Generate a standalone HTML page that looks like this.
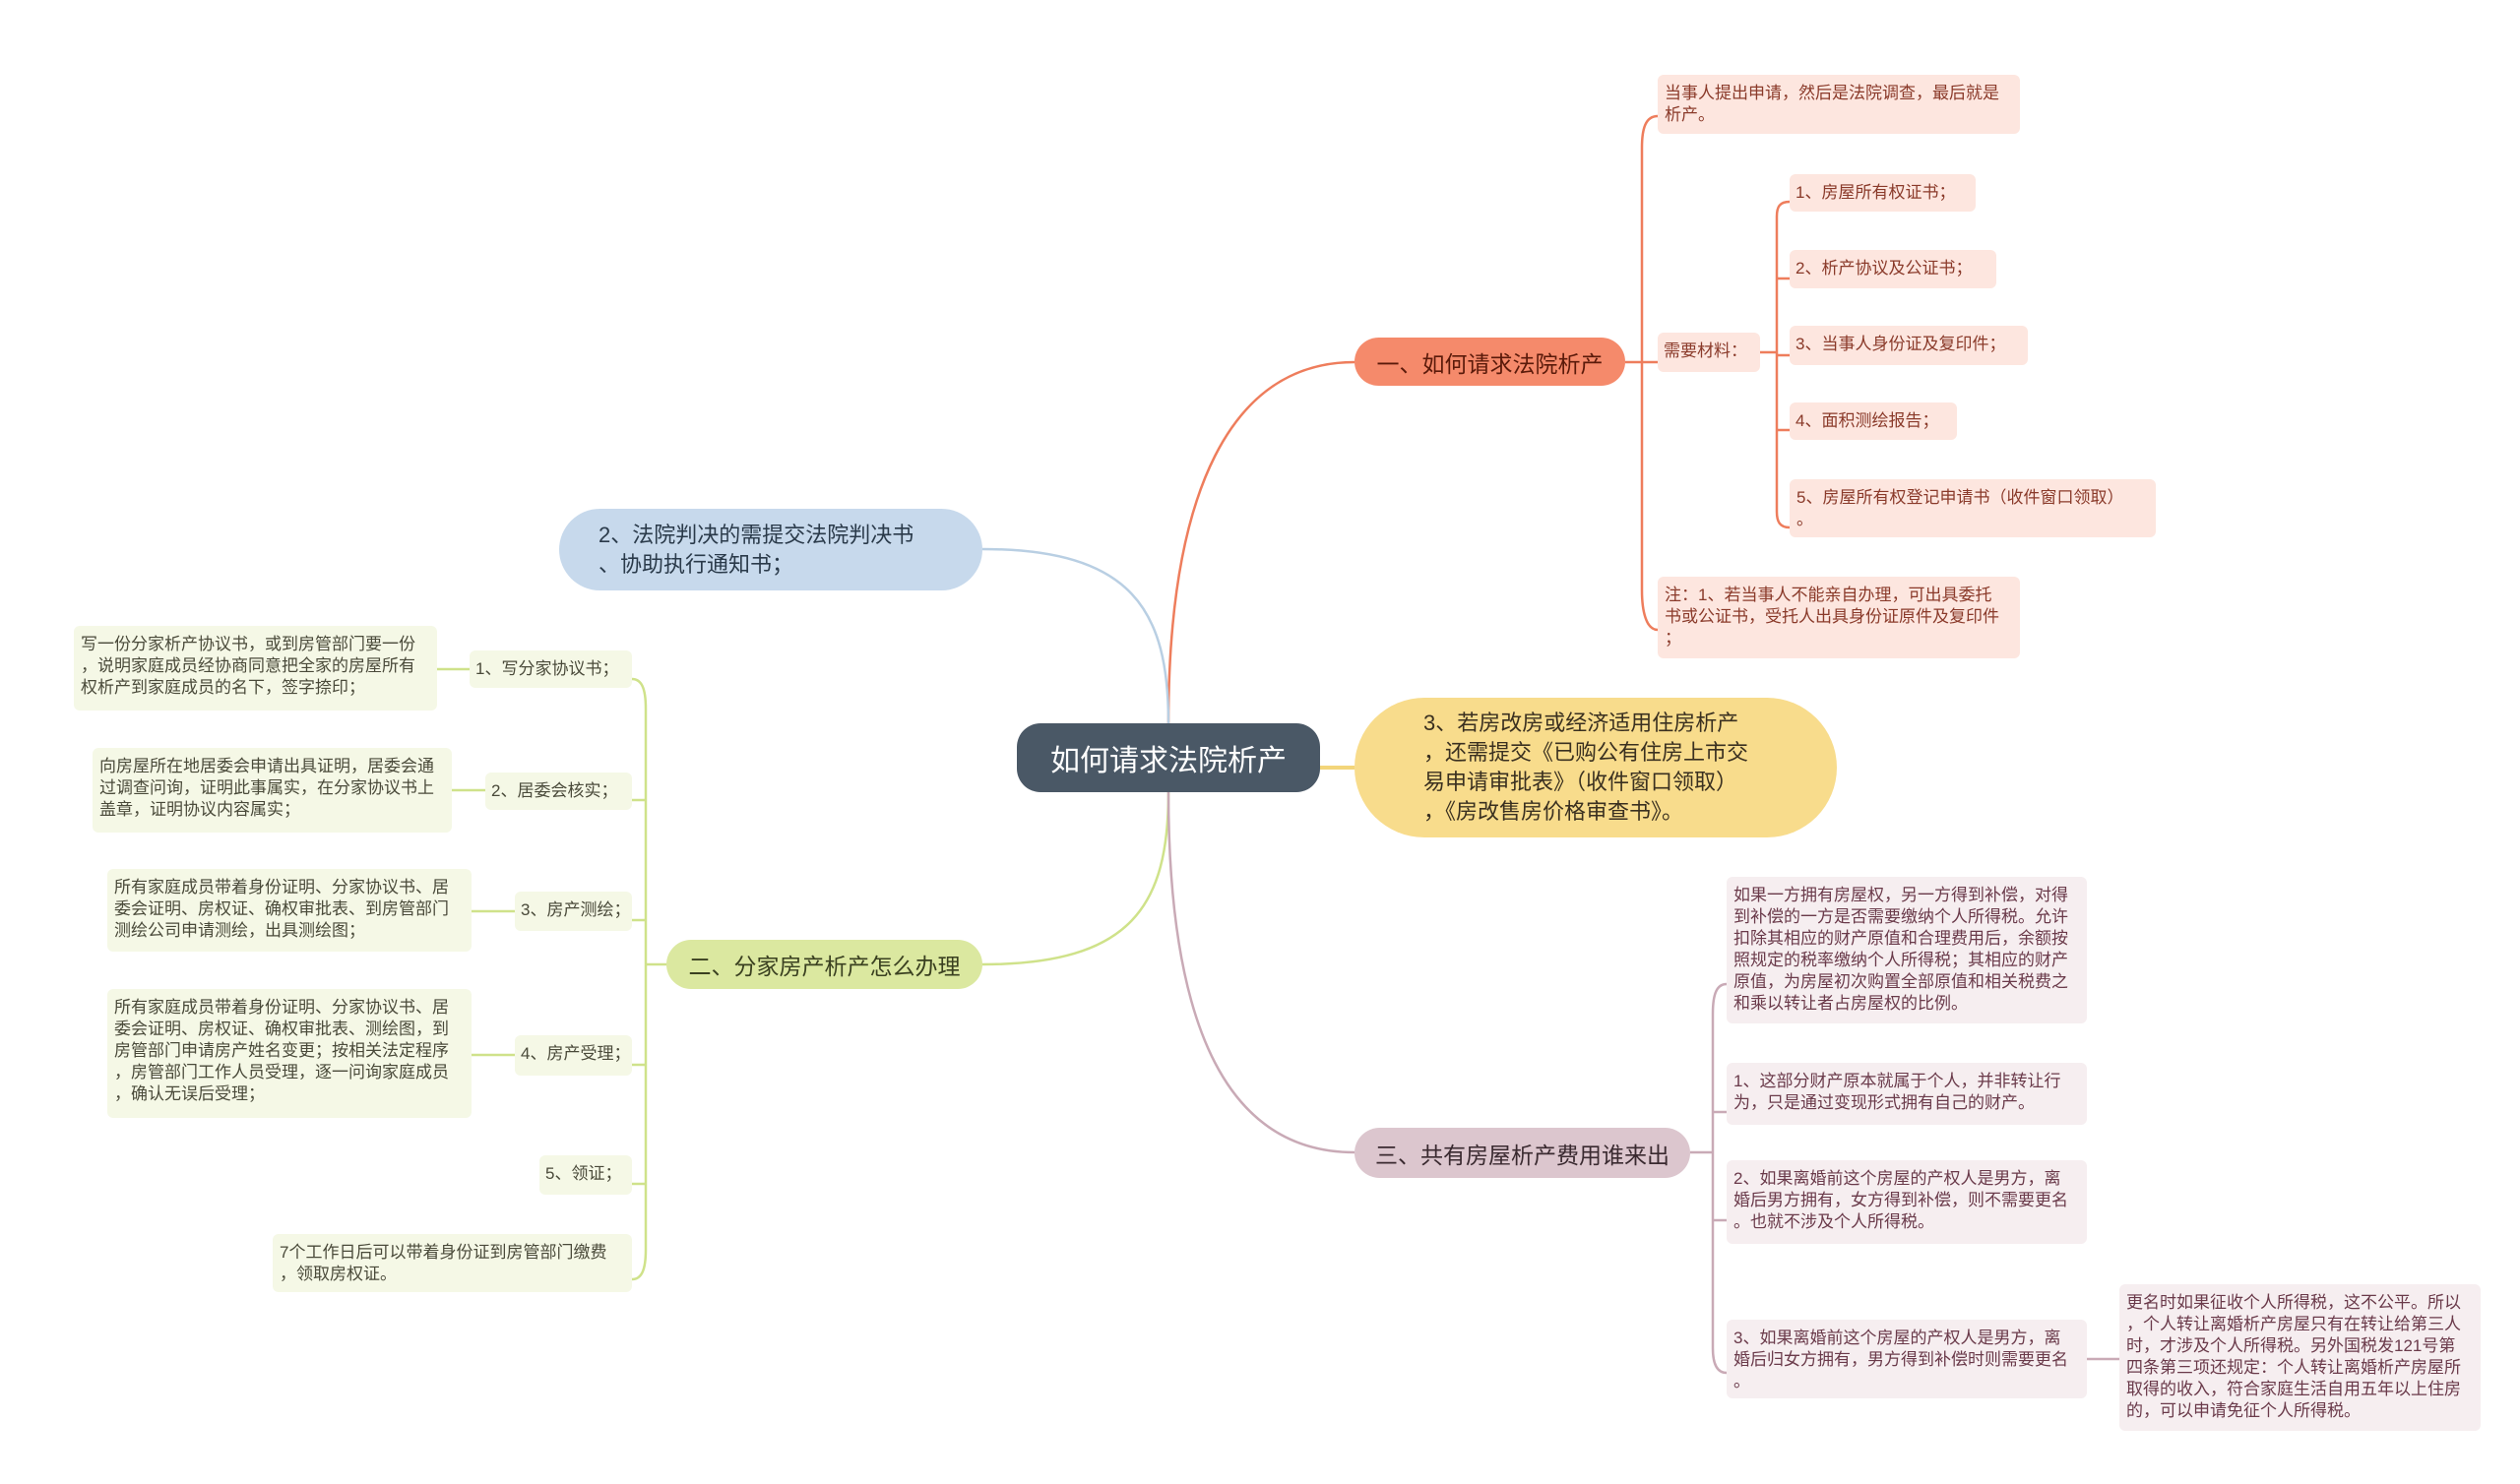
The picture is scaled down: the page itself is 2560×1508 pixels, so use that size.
<!DOCTYPE html>
<html><head><meta charset="utf-8"><style>
body{margin:0;width:2560px;height:1508px;background:#fff;position:relative;overflow:hidden;font-family:"Liberation Sans","Noto Sans CJK SC",sans-serif}
.b{position:absolute;box-sizing:border-box;font-size:17px;line-height:22px;padding:8px 7px;border-radius:6px}
.s{white-space:nowrap;padding:8px 6px}
.o{background:#fde6df;color:#8a3a2a}
.g{background:#f5f8e6;color:#4a4a3a}
.m{background:#f6eef0;color:#6a3a4a}
.n{position:absolute;box-sizing:border-box;display:flex;align-items:center;justify-content:center;border-radius:30px;font-size:23px;white-space:nowrap}
svg{position:absolute;left:0;top:0}
</style></head><body>
<svg width="2560" height="1508" fill="none" stroke-width="2.5">
<path d="M1187 735 C1187 500 1250 368 1376 368" stroke="#ee7d5c"/>
<path d="M1187 735 C1187 620 1150 558 998 558" stroke="#b9cfe3"/>
<path d="M1187 805 C1187 920 1150 980 998 980" stroke="#cfe28a"/>
<path d="M1187 805 C1187 1050 1250 1171 1376 1171" stroke="#c9aab6"/>
<path d="M1341 780 L1376 780" stroke="#f3d57a" stroke-width="4"/>
<g stroke="#ee7d5c">
<path d="M1651 368 L1668 368"/>
<path d="M1684 118 C1672 118 1668 130 1668 150 L1668 600 C1668 620 1672 640 1684 640"/>
<path d="M1668 368 L1684 368"/>
<path d="M1788 358 L1805 358"/>
<path d="M1818 205 C1808 205 1805 210 1805 220 L1805 520 C1805 530 1808 536 1818 536"/>
<path d="M1805 283 L1818 283 M1805 361 L1818 361 M1805 437 L1818 437"/>
</g>
<g stroke="#cfe28a">
<path d="M677 980 L656 980"/>
<path d="M642 690 C652 690 656 700 656 720 L656 1270 C656 1290 652 1300 642 1300"/>
<path d="M642 813 L656 813 M642 935 L656 935 M642 1082 L656 1082 M642 1203 L656 1203"/>
<path d="M444 680 L477 680 M459 803 L493 803 M479 926 L523 926 M479 1072 L523 1072"/>
</g>
<g stroke="#c9aab6">
<path d="M1717 1171 L1740 1171"/>
<path d="M1754 1000 C1744 1000 1740 1010 1740 1030 L1740 1370 C1740 1385 1744 1395 1754 1395"/>
<path d="M1740 1130 L1754 1130 M1740 1240 L1754 1240"/>
<path d="M2120 1381 L2153 1381"/>
</g>
</svg>
<div class="n" style="left:1033px;top:735px;width:308px;height:70px;background:#4a5866;color:#fff;font-size:30px;border-radius:24px">如何请求法院析产</div>
<div class="n" style="left:1376px;top:343px;width:275px;height:49px;background:#f58a6b;color:#5a1a0a">一、如何请求法院析产</div>
<div class="n" style="left:1376px;top:709px;width:490px;height:142px;background:#f8dc8c;color:#3a3020;border-radius:71px;justify-content:flex-start;padding-left:70px;line-height:30px;font-size:22px">3、若房改房或经济适用住房析产<br>，还需提交《已购公有住房上市交<br>易申请审批表》（收件窗口领取）<br>，《房改售房价格审查书》。</div>
<div class="n" style="left:1376px;top:1146px;width:341px;height:51px;background:#dcc6ce;color:#3a2a30">三、共有房屋析产费用谁来出</div>
<div class="n" style="left:568px;top:517px;width:430px;height:83px;background:#c7d9ec;color:#2a3a4a;border-radius:42px;line-height:30px;justify-content:flex-start;padding-left:40px;font-size:22px">2、法院判决的需提交法院判决书<br>、协助执行通知书；</div>
<div class="n" style="left:677px;top:955px;width:321px;height:50px;background:#dbe8a0;color:#3a4020">二、分家房产析产怎么办理</div>

<div class="b o" style="left:1684px;top:76px;width:368px;height:60px">当事人提出申请，然后是法院调查，最后就是<br>析产。</div>
<div class="b o s" style="left:1684px;top:338px;width:104px;height:40px">需要材料：</div>
<div class="b o s" style="left:1818px;top:177px;width:189px;height:38px">1、房屋所有权证书；</div>
<div class="b o s" style="left:1818px;top:254px;width:210px;height:39px">2、析产协议及公证书；</div>
<div class="b o s" style="left:1818px;top:331px;width:242px;height:40px">3、当事人身份证及复印件；</div>
<div class="b o s" style="left:1818px;top:409px;width:170px;height:38px">4、面积测绘报告；</div>
<div class="b o" style="left:1818px;top:487px;width:372px;height:59px">5、房屋所有权登记申请书（收件窗口领取）<br>。</div>
<div class="b o" style="left:1684px;top:586px;width:368px;height:83px">注：1、若当事人不能亲自办理，可出具委托<br>书或公证书，受托人出具身份证原件及复印件<br>；</div>

<div class="b m" style="left:1754px;top:891px;width:366px;height:149px">如果一方拥有房屋权，另一方得到补偿，对得到补偿的一方是否需要缴纳个人所得税。允许扣除其相应的财产原值和合理费用后，余额按照规定的税率缴纳个人所得税；其相应的财产原值，为房屋初次购置全部原值和相关税费之和乘以转让者占房屋权的比例。</div>
<div class="b m" style="left:1754px;top:1080px;width:366px;height:63px">1、这部分财产原本就属于个人，并非转让行<br>为，只是通过变现形式拥有自己的财产。</div>
<div class="b m" style="left:1754px;top:1179px;width:366px;height:85px">2、如果离婚前这个房屋的产权人是男方，离<br>婚后男方拥有，女方得到补偿，则不需要更名<br>。也就不涉及个人所得税。</div>
<div class="b m" style="left:1754px;top:1341px;width:366px;height:80px">3、如果离婚前这个房屋的产权人是男方，离<br>婚后归女方拥有，男方得到补偿时则需要更名<br>。</div>
<div class="b m" style="left:2153px;top:1305px;width:367px;height:149px">更名时如果征收个人所得税，这不公平。所以<br>，个人转让离婚析产房屋只有在转让给第三人<br>时，才涉及个人所得税。另外国税发121号第<br>四条第三项还规定：个人转让离婚析产房屋所<br>取得的收入，符合家庭生活自用五年以上住房<br>的，可以申请免征个人所得税。</div>

<div class="b g" style="left:75px;top:636px;width:369px;height:86px">写一份分家析产协议书，或到房管部门要一份<br>，说明家庭成员经协商同意把全家的房屋所有<br>权析产到家庭成员的名下，签字捺印；</div>
<div class="b g s" style="left:477px;top:661px;width:165px;height:38px">1、写分家协议书；</div>
<div class="b g" style="left:94px;top:760px;width:365px;height:86px">向房屋所在地居委会申请出具证明，居委会通<br>过调查问询，证明此事属实，在分家协议书上<br>盖章，证明协议内容属实；</div>
<div class="b g s" style="left:493px;top:785px;width:149px;height:38px">2、居委会核实；</div>
<div class="b g" style="left:109px;top:883px;width:370px;height:84px">所有家庭成员带着身份证明、分家协议书、居<br>委会证明、房权证、确权审批表、到房管部门<br>测绘公司申请测绘，出具测绘图；</div>
<div class="b g s" style="left:523px;top:906px;width:119px;height:40px">3、房产测绘；</div>
<div class="b g" style="left:109px;top:1005px;width:370px;height:131px">所有家庭成员带着身份证明、分家协议书、居<br>委会证明、房权证、确权审批表、测绘图，到<br>房管部门申请房产姓名变更；按相关法定程序<br>，房管部门工作人员受理，逐一问询家庭成员<br>，确认无误后受理；</div>
<div class="b g s" style="left:523px;top:1052px;width:119px;height:41px">4、房产受理；</div>
<div class="b g s" style="left:548px;top:1174px;width:94px;height:40px">5、领证；</div>
<div class="b g" style="left:277px;top:1254px;width:365px;height:59px">7个工作日后可以带着身份证到房管部门缴费<br>，领取房权证。</div>
</body></html>
